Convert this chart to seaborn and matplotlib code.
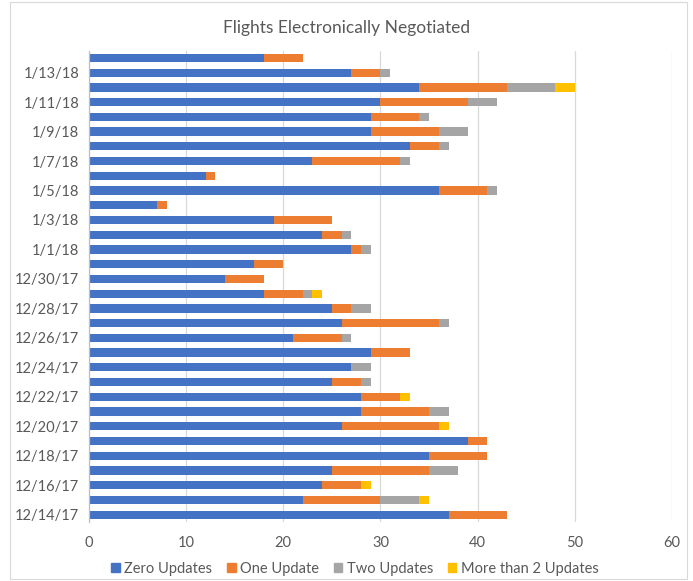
import numpy as np
import pandas as pd
import matplotlib
matplotlib.use("Agg")
import matplotlib.pyplot as plt
import matplotlib.patches as mpatches
import seaborn as sns

# dates listed top to bottom, as in the chart
dates = ["1/14/18", "1/13/18", "1/12/18", "1/11/18", "1/10/18", "1/9/18", "1/8/18", "1/7/18",
         "1/6/18", "1/5/18", "1/4/18", "1/3/18", "1/2/18", "1/1/18", "12/31/17", "12/30/17",
         "12/29/17", "12/28/17", "12/27/17", "12/26/17", "12/25/17", "12/24/17", "12/23/17", "12/22/17",
         "12/21/17", "12/20/17", "12/19/17", "12/18/17", "12/17/17", "12/16/17", "12/15/17", "12/14/17"]
zero_updates = [18, 27, 34, 30, 29, 29, 33, 23, 12, 36, 7, 19, 24, 27, 17, 14,
                18, 25, 26, 21, 29, 27, 25, 28, 28, 26, 39, 35, 25, 24, 22, 37]
one_update = [4, 3, 9, 9, 5, 7, 3, 9, 1, 5, 1, 6, 2, 1, 3, 4,
              4, 2, 10, 5, 4, 0, 3, 4, 7, 10, 2, 6, 10, 4, 8, 6]
two_updates = [0, 1, 5, 3, 1, 3, 1, 1, 0, 1, 0, 0, 1, 1, 0, 0,
               1, 2, 1, 1, 0, 2, 1, 0, 2, 0, 0, 0, 3, 0, 4, 0]
more_updates = [0, 0, 2, 0, 0, 0, 0, 0, 0, 0, 0, 0, 0, 0, 0, 0,
                1, 0, 0, 0, 0, 0, 0, 1, 0, 1, 0, 0, 0, 1, 1, 0]

series = ["Zero Updates", "One Update", "Two Updates", "More than 2 Updates"]
colors = ["#4472C4", "#ED7D31", "#A5A5A5", "#FFC000"]

df = pd.DataFrame({"date": dates, "Zero Updates": zero_updates, "One Update": one_update,
                   "Two Updates": two_updates, "More than 2 Updates": more_updates})
cum = df[series].cumsum(axis=1)

sns.set_style("white")
plt.rcParams["font.family"] = ["Lato", "DejaVu Sans"]

fig = plt.figure(figsize=(6.93, 5.81), dpi=100)
ax = fig.add_axes([0.1284, 0.1015, 0.8413, 0.8115])

# stacked bars: draw cumulative totals from the outermost segment inwards
for name, col in reversed(list(zip(series, colors))):
    sns.barplot(x=cum[name], y=df["date"], order=dates, orient="h", color=col,
                width=0.56, linewidth=0, saturation=1, ax=ax)

ax.set_xlim(0, 60)
ax.set_ylim(len(dates) - 0.5, -0.5)
ax.set_xticks(range(0, 61, 10))
ax.grid(axis="x", color="#D9D9D9", linewidth=0.9)
ax.set_axisbelow(True)
ax.set_xlabel("")
ax.set_ylabel("")

ax.set_yticks(range(1, len(dates), 2))
ax.set_yticklabels(dates[1::2])
ax.set_yticks(np.arange(-0.5, len(dates), 2), minor=True)
ax.tick_params(axis="y", which="major", length=0, pad=7, labelsize=10.5, labelcolor="#595959")
ax.tick_params(axis="y", which="minor", length=4, color="#BFBFBF", direction="out")
ax.tick_params(axis="x", length=0, pad=10, labelsize=10.5, labelcolor="#595959")

for s in ["top", "right", "bottom"]:
    ax.spines[s].set_visible(False)
ax.spines["left"].set_color("#BFBFBF")
ax.spines["left"].set_linewidth(0.9)

fig.text(0.5, 0.951, "Flights Electronically Negotiated", ha="center", va="center",
         fontsize=12.5, color="#595959")

handles = [mpatches.Patch(color=c, label=s) for s, c in zip(series, colors)]
fig.legend(handles=handles, loc="center", bbox_to_anchor=(0.512, 0.021), ncol=4, frameon=False,
           fontsize=10.5, labelcolor="#595959", handlelength=0.6, handleheight=0.6,
           handletextpad=0.3, columnspacing=1.0)

fig.patches.append(mpatches.Rectangle((0.014, 0.003), 0.978, 0.994, transform=fig.transFigure,
                                      fill=False, edgecolor="#D9D9D9", linewidth=0.8))

fig.savefig("out.png", dpi=100)
